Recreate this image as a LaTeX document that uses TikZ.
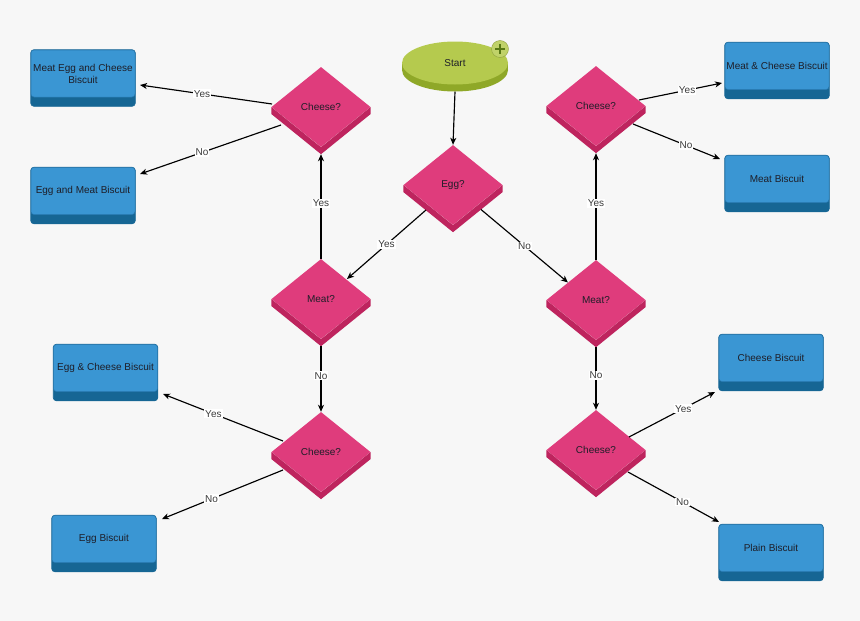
\documentclass[tikz,border=0pt]{standalone}
\usepackage{fontspec}
\setmainfont{Liberation Sans}
\usetikzlibrary{shapes.geometric,arrows.meta,calc}
\pgfdeclarelayer{bg}\pgfdeclarelayer{back}\pgfsetlayers{bg,back,main}
\definecolor{pagebg}{RGB}{247,247,247}
\definecolor{bxlight}{RGB}{58,150,211}
\definecolor{bxdark}{RGB}{22,102,148}
\definecolor{bxline}{RGB}{40,120,175}
\definecolor{diapink}{RGB}{223,60,124}
\definecolor{diadark}{RGB}{190,36,94}
\definecolor{grtop}{RGB}{181,202,78}
\definecolor{grrim}{RGB}{143,168,40}
\definecolor{grplus}{RGB}{88,120,20}
\definecolor{txt}{RGB}{30,30,40}
\definecolor{lbltext}{RGB}{60,60,60}
\newcommand\fs{\fontsize{10}{12}\selectfont}
\newcommand\bbox[3]{%
  \node[bx] (#1) at (#2) {#3};
  \begin{pgfonlayer}{back}
    \fill[bxdark, draw=bxdark, line width=0.6pt, rounded corners=3pt] (#1.north west) rectangle ([yshift=-9pt]#1.south east);
  \end{pgfonlayer}}
\newcommand\ddia[3]{%
  \node[dia] (#1) at (#2) {#3};
  \fill[diadark] (#1.west) -- (#1.south) -- (#1.east) -- ([yshift=-7pt]#1.east) -- ([yshift=-7pt]#1.south) -- ([yshift=-7pt]#1.west) -- cycle;}
\begin{document}
\begin{tikzpicture}[x=1pt,y=-1pt,
  dia/.style={diamond, fill=diapink, minimum width=99pt, minimum height=80pt, inner sep=0pt, font=\fs, text=txt},
  bx/.style={rectangle, rounded corners=3pt, fill=bxlight, draw=bxline, line width=0.5pt, minimum width=104pt, minimum height=47pt, inner sep=1pt, align=center, font=\fs, text=txt},
  arr/.style={draw=black, line width=1.15pt, -{Stealth[length=7pt,width=6pt,inset=2pt]}},
  lbl/.style={fill=white, inner sep=1pt, font=\fs, text=lbltext},
  startnode/.style={ellipse, fill=grtop, minimum width=106pt, minimum height=43pt, inner sep=0pt, font=\fs, text=txt},
  plusnode/.style={circle, fill=grtop!85!white, draw=grtop!80!black, line width=0.4pt, minimum size=17pt, inner sep=0pt},
  plusline/.style={draw=grplus, line width=2.4pt}]
\useasboundingbox (0,0) rectangle (860,621);
\begin{pgfonlayer}{bg}
  \fill[pagebg] (0,0) rectangle (860,621);
\end{pgfonlayer}

% start
\node[startnode] (start) at (455,63) {Start};
\begin{pgfonlayer}{back}
  \fill[grrim] ([yshift=-7pt]start.center) ellipse [x radius=53pt, y radius=21.5pt];
  \fill[grrim] (start.west) rectangle ([yshift=-7pt]start.east);
\end{pgfonlayer}
\node[plusnode] (plus) at (500,49) {};
\draw[plusline] ($(plus)+(-5,0)$) -- ($(plus)+(5,0)$);
\draw[plusline] ($(plus)+(0,-5)$) -- ($(plus)+(0,5)$);

% diamonds
\ddia{egg}{453,185}{Egg?}
\ddia{ctl}{321,107}{Cheese?}
\ddia{ctr}{596,106}{Cheese?}
\ddia{ml}{321,299}{Meat?}
\ddia{mr}{596,300}{Meat?}
\ddia{cbl}{321,452}{Cheese?}
\ddia{cbr}{596,450}{Cheese?}

% boxes
\bbox{b1}{83,73.5}{Meat Egg and Cheese\\Biscuit}
\bbox{b2}{83,191}{Egg and Meat Biscuit}
\bbox{b3}{105.5,368}{Egg \& Cheese Biscuit}
\bbox{b4}{104,539}{Egg Biscuit}
\bbox{b5}{777,66}{Meat \& Cheese Biscuit}
\bbox{b6}{777,179}{Meat Biscuit}
\bbox{b7}{771,358}{Cheese Biscuit}
\bbox{b8}{771,548}{Plain Biscuit}

% connectors
\draw[arr] ([yshift=-7pt]start.south) -- (egg.north);
\draw[arr] ($(egg)+(-27,25)$) -- node[lbl, pos=0.5]{Yes} ($(ml)+(26,-20)$);
\draw[arr] ($(egg)+(28,24.5)$) -- node[lbl, pos=0.5]{No} ($(mr)+(-28,-17.5)$);
\draw[arr] (ml.north) -- node[lbl, pos=0.53]{Yes} ([yshift=-7pt]ctl.south);
\draw[arr] ([yshift=-7pt]ml.south) -- node[lbl, pos=0.45]{No} (cbl.north);
\draw[arr] (mr.north) -- node[lbl, pos=0.53]{Yes} ([yshift=-7pt]ctr.south);
\draw[arr] ([yshift=-7pt]mr.south) -- node[lbl, pos=0.45]{No} (cbr.north);
\draw[arr] ($(ctl)+(-49,-3)$) -- node[lbl, pos=0.53]{Yes} ($(b1)+(57,11.5)$);
\draw[arr] ($(ctl)+(-40,18)$) -- node[lbl, pos=0.56]{No} ($(b2)+(57,-17)$);
\draw[arr] ($(ctr)+(43,-6)$) -- node[lbl, pos=0.58]{Yes} ($(b5)+(-55,17)$);
\draw[arr] ($(ctr)+(37,18)$) -- node[lbl, pos=0.61]{No} ($(b6)+(-57,-20)$);
\draw[arr] ($(cbl)+(-38,-11)$) -- node[lbl, pos=0.58]{Yes} ($(b3)+(57.5,26)$);
\draw[arr] ($(cbl)+(-38,18)$) -- node[lbl, pos=0.59]{No} ($(b4)+(58,-20)$);
\draw[arr] ($(cbr)+(33,-13)$) -- node[lbl, pos=0.63]{Yes} ($(b7)+(-56,34)$);
\draw[arr] ($(cbr)+(32,22)$) -- node[lbl, pos=0.6]{No} ($(b8)+(-52,-26)$);
\end{tikzpicture}
\end{document}
